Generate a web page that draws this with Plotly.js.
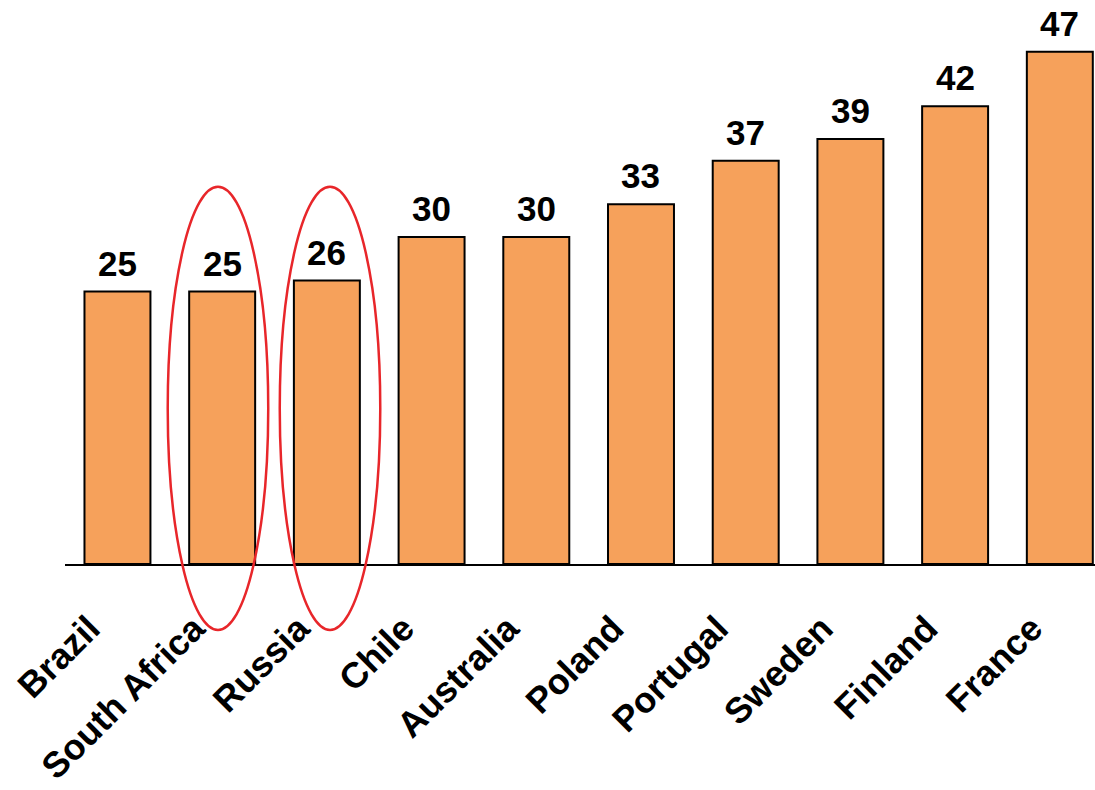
<!DOCTYPE html>
<html>
<head>
<meta charset="utf-8">
<script src="https://cdn.plot.ly/plotly-3.0.1.min.js"></script>
<style>html,body{margin:0;padding:0;background:#fff;}#chart{width:1095px;height:790px;}</style>
</head>
<body>
<div id="chart"></div>
<script>
const countries = ['Brazil','South Africa','Russia','Chile','Australia','Poland','Portugal','Sweden','Finland','France'];
const values = [25, 25, 26, 30, 30, 33, 37, 39, 42, 47];
const highlighted = ['South Africa', 'Russia'];

const valueFont = {family: 'Liberation Sans, Arial, sans-serif', size: 35, color: '#000', weight: 'bold'};
const tickFont = {family: 'Liberation Sans, Arial, sans-serif', size: 36, color: '#000', weight: 'bold'};

const trace = {
  type: 'bar',
  x: countries,
  y: values,
  marker: {color: '#F6A15B', line: {color: '#000', width: 2}},
  hoverinfo: 'skip'
};

const annotations = countries.map((c, i) => ({
  x: c, y: values[i], xref: 'x', yref: 'y',
  text: String(values[i]), showarrow: false,
  yanchor: 'bottom', yshift: 7,
  font: valueFont
}));

const ellipseOffsets = {'South Africa': -0.04, 'Russia': 0.03};
const shapes = highlighted.map(c => {
  const idx = countries.indexOf(c);
  const cx = idx + ellipseOffsets[c];
  return {
    type: 'circle', xref: 'x', yref: 'paper',
    x0: cx - 0.48, x1: cx + 0.48,
    y0: -0.121, y1: 0.692,
    line: {color: '#E8262A', width: 2.5},
    layer: 'above'
  };
});

const layout = {
  width: 1095, height: 790,
  margin: {l: 65, r: 0, t: 19, b: 226},
  paper_bgcolor: '#fff', plot_bgcolor: '#fff',
  showlegend: false,
  bargap: 0.37,
  xaxis: {
    type: 'category',
    range: [-0.501, 9.336],
    showline: true, linecolor: '#000', linewidth: 2,
    showgrid: false, zeroline: false,
    ticks: '', tickangle: -45,
    ticklabelstandoff: 27,
    ticklabelshift: -28,
    tickfont: tickFont
  },
  yaxis: {
    range: [0, 50], visible: false, showgrid: false, zeroline: false
  },
  annotations: annotations,
  shapes: shapes
};

Plotly.newPlot('chart', [trace], layout, {staticPlot: true, displayModeBar: false});
</script>
</body>
</html>
